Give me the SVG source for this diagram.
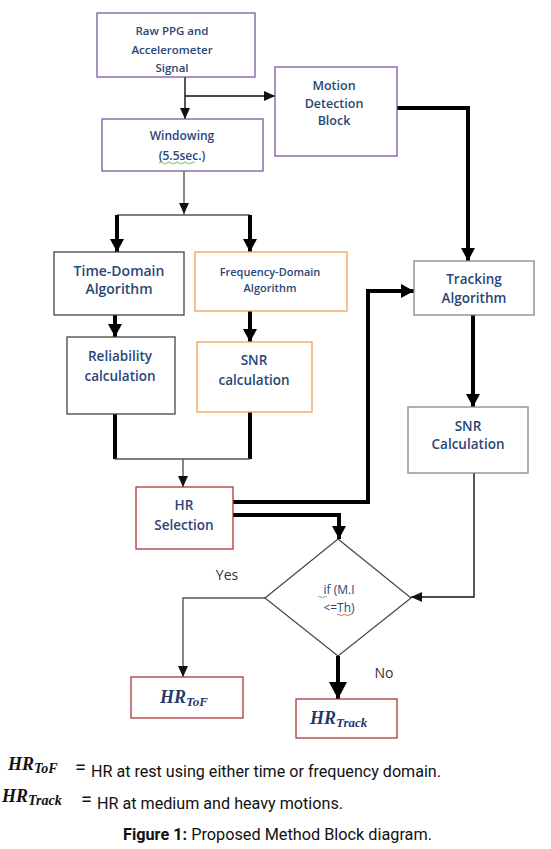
<svg xmlns="http://www.w3.org/2000/svg" width="551" height="849" viewBox="0 0 551 849">
<style>
.box{fill:#fff;stroke-width:1.3}
.pur{stroke:#7A5A9E}
.drk{stroke:#444}
.org{stroke:#F0A050}
.red{stroke:#B0343C}
.gry{stroke:#888}
.t{font-family:"Open Sans","Liberation Sans",sans-serif;font-weight:600;fill:#2A4676;text-anchor:middle}
.thin{fill:none;stroke:#111;stroke-width:1.4}
.gl{fill:none;stroke:#555;stroke-width:1.4}
.thk{fill:none;stroke:#000;stroke-width:4}
.m{font-family:"Liberation Serif",serif;font-weight:bold;font-style:italic;fill:#1F3A6A}
.lg{font-family:"Roboto","Liberation Sans",sans-serif;fill:#111}
</style>
<defs>
<marker id="a1" markerUnits="userSpaceOnUse" markerWidth="12" markerHeight="12" viewBox="0 0 12 12" refX="11" refY="6" orient="auto"><path d="M0 1 L11 6 L0 11 Z" fill="#111"/></marker>
<marker id="a2" markerUnits="userSpaceOnUse" markerWidth="14" markerHeight="14" viewBox="0 0 14 14" refX="13" refY="7" orient="auto"><path d="M0 0 L13 7 L0 14 Z" fill="#000"/></marker>
<marker id="a3" markerUnits="userSpaceOnUse" markerWidth="18" markerHeight="18" viewBox="0 0 18 18" refX="17" refY="9" orient="auto"><path d="M0 0 L17 9 L0 18 Z" fill="#000"/></marker>
</defs>
<g id="connectors">
<path class="thin" d="M185 77 V119" marker-end="url(#a1)"/>
<path class="thin" d="M185 96 H275" marker-end="url(#a1)"/>
<path class="thk" d="M397 108 H468 V261" marker-end="url(#a2)"/>
<path class="gl" d="M184 171 V214" marker-end="url(#a1)"/>
<path class="gl" d="M117 215 H250"/>
<path class="thk" d="M117 215 V252" marker-end="url(#a2)"/>
<path class="thk" d="M250 215 V252" marker-end="url(#a2)"/>
<path class="thk" d="M115 315 V337" marker-end="url(#a2)"/>
<path class="thk" d="M250 311 V342" marker-end="url(#a2)"/>
<path class="thk" d="M115 414 V459"/>
<path class="thk" d="M250 412 V459"/>
<path class="gl" d="M115 459 H250"/>
<path class="gl" d="M183 459 V487" marker-end="url(#a1)"/>
<path class="thk" d="M233 502 H368 V291 H414" marker-end="url(#a2)"/>
<path class="thk" d="M233 515 H339 V539" marker-end="url(#a2)"/>
<path class="thk" d="M473 315 V407" marker-end="url(#a2)"/>
<path class="thin" d="M474 473 V597 H411" marker-end="url(#a1)"/>
<path class="gl" d="M265 598 H183 V677" marker-end="url(#a1)"/>
<path class="thk" d="M338 656 V699" stroke-width="6" marker-end="url(#a3)"/>
</g>
<g id="raw"><rect class="box pur" x="97" y="13" width="158" height="64"/>
<text class="t" font-size="11.5"><tspan x="172" y="35">Raw  PPG and</tspan><tspan x="172" y="54">Accelerometer</tspan></text>
<text class="t" font-size="11.5" x="172" y="72">Signal</text></g>
<g id="windowing"><rect class="box pur" x="102" y="119" width="161" height="52"/>
<text class="t" font-size="12"><tspan x="182" y="140">Windowing</tspan><tspan x="182" y="160">(5.5sec.)</tspan></text>
<path d="M159 163 q2 -2 4 0 t4 0 t4 0 t4 0 t4 0 t4 0 t4 0 t4 0 t4 0" fill="none" stroke="#4a4" stroke-width="0.8"/></g>
<g id="motion"><rect class="box pur" x="275" y="67" width="122" height="89"/>
<text class="t" font-size="12.5"><tspan x="334" y="90">Motion</tspan><tspan x="334" y="108">Detection</tspan><tspan x="334" y="125">Block</tspan></text></g>
<g id="timedomain"><rect class="box drk" x="54" y="252" width="130" height="63"/>
<text class="t" font-size="14"><tspan x="119" y="276">Time-Domain</tspan><tspan x="119" y="294">Algorithm</tspan></text></g>
<g id="freqdomain"><rect class="box org" x="195" y="252" width="152" height="59"/>
<text class="t" font-size="11"><tspan x="270" y="276">Frequency-Domain</tspan><tspan x="270" y="292">Algorithm</tspan></text></g>
<g id="reliability"><rect class="box drk" x="67" y="337" width="108" height="77"/>
<text class="t" font-size="13.5"><tspan x="120" y="361">Reliability</tspan><tspan x="120" y="381">calculation</tspan></text></g>
<g id="snr1"><rect class="box org" x="197" y="342" width="115" height="70"/>
<text class="t" font-size="13.5"><tspan x="254" y="365">SNR</tspan><tspan x="254" y="385">calculation</tspan></text></g>
<g id="tracking"><rect class="box gry" x="414" y="261" width="120" height="54"/>
<text class="t" font-size="13.5"><tspan x="474" y="284">Tracking</tspan><tspan x="474" y="303">Algorithm</tspan></text></g>
<g id="snr2"><rect class="box gry" x="408" y="407" width="120" height="66"/>
<text class="t" font-size="13.5"><tspan x="468" y="431">SNR</tspan><tspan x="468" y="449">Calculation</tspan></text></g>
<g id="hrsel"><rect class="box red" x="136" y="487" width="97" height="62"/>
<text class="t" font-size="13.5"><tspan x="184" y="510">HR</tspan><tspan x="184" y="530">Selection</tspan></text></g>
<g id="decision"><path d="M338 539 L411 598 L338 656 L265 598 Z" fill="#fff" stroke="#444" stroke-width="1.2"/>
<text class="t" font-size="12" style="font-weight:normal"><tspan x="339" y="594">if (M.I</tspan><tspan x="339" y="612">&lt;=Th)</tspan></text>
<path d="M318 597 q1.5 -1.5 3 0 t3 0 t3 0" fill="none" stroke="#4a4" stroke-width="0.8"/>
<path d="M337 615 q1.5 -1.5 3 0 t3 0 t3 0 t3 0 t3 0" fill="none" stroke="#d33" stroke-width="0.8"/></g>
<text class="t" font-size="14" x="227" y="580" style="fill:#333;font-weight:normal">Yes</text>
<text class="t" font-size="14" x="384" y="678" style="fill:#333;font-weight:normal">No</text>
<g id="hrtof"><rect class="box red" x="131" y="677" width="112" height="41"/>
<text class="m" font-size="18" x="160" y="703">HR<tspan font-size="13" dy="3">ToF</tspan></text></g>
<g id="hrtrack"><rect class="box red" x="296" y="699" width="101" height="39"/>
<text class="m" font-size="18" x="310" y="724">HR<tspan font-size="13" dy="3">Track</tspan></text></g>
<g id="legend">
<text class="m" font-size="18" x="8" y="770" style="fill:#111">HR<tspan font-size="14" dy="3">ToF</tspan></text>
<text class="lg" font-size="20" x="75" y="774">=</text>
<text class="lg" font-size="16" x="91" y="777" textLength="350" lengthAdjust="spacingAndGlyphs">HR at rest using either time or frequency domain.</text>
<text class="m" font-size="18" x="2" y="802" style="fill:#111">HR<tspan font-size="14" dy="3">Track</tspan></text>
<text class="lg" font-size="20" x="81" y="806">=</text>
<text class="lg" font-size="16" x="97" y="809" textLength="246" lengthAdjust="spacingAndGlyphs">HR at medium and heavy motions.</text>
<text class="lg" font-size="16" x="123" y="840" textLength="309" lengthAdjust="spacingAndGlyphs"><tspan font-weight="bold">Figure 1:</tspan> Proposed Method Block diagram.</text>
</g>
</svg>
